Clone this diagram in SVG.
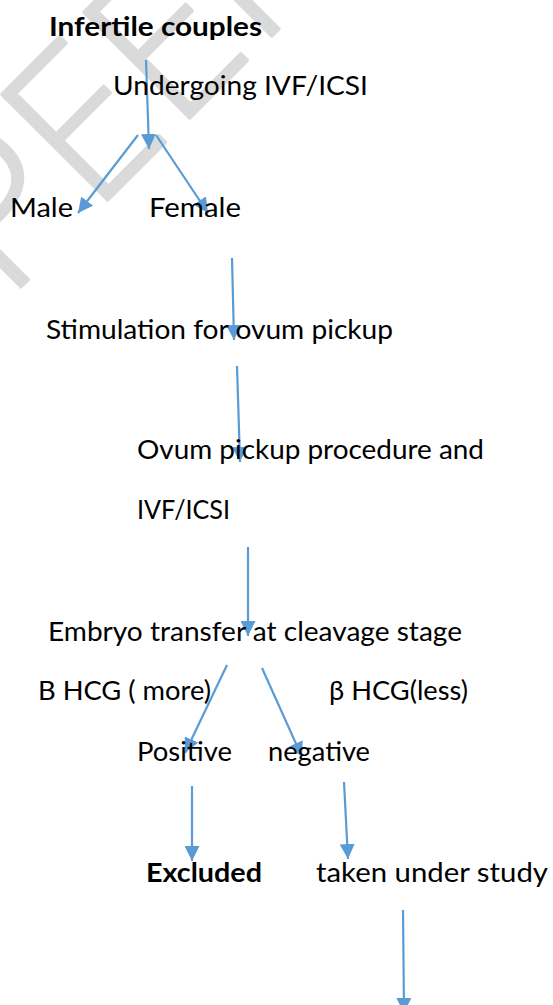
<svg xmlns="http://www.w3.org/2000/svg" width="553" height="1005" viewBox="0 0 553 1005">
<style>
.t{font-family:Lato,"Liberation Sans",sans-serif;font-size:26.5px;fill:#000}
.b{font-weight:bold}
.c{stroke:#5B9BD5;stroke-width:2.2;fill:none;marker-end:url(#ah)}
.wm{font-family:"Open Sans","Liberation Sans",sans-serif;font-weight:300;font-size:210px;fill:#dadada;stroke:#dadada;stroke-width:3;stroke-linejoin:round}
</style>
<defs>
<marker id="ah" markerUnits="userSpaceOnUse" markerWidth="15" markerHeight="15" viewBox="0 0 15 15" refX="15" refY="7.5" orient="auto">
<path d="M0,0 L15,7.5 L0,15 z" fill="#5B9BD5"/>
</marker>
</defs>
<rect width="553" height="1005" fill="#fff"/>
<g id="watermark"><text class="wm" transform="translate(6,302) rotate(-45)">PEER</text></g>
<g id="connectors">
<line class="c" x1="146" y1="60" x2="149" y2="149"/>
<line class="c" x1="138" y1="135" x2="78" y2="213"/>
<line class="c" x1="156" y1="135" x2="208" y2="213"/>
<line class="c" x1="232" y1="258" x2="234" y2="340"/>
<line class="c" x1="237" y1="366" x2="240" y2="462"/>
<line class="c" x1="248" y1="547" x2="248" y2="636"/>
<line class="c" x1="227" y1="665" x2="185" y2="753"/>
<line class="c" x1="262" y1="668" x2="302" y2="757"/>
<line class="c" x1="192" y1="786" x2="192" y2="861"/>
<line class="c" x1="344" y1="782" x2="348" y2="859"/>
<line class="c" x1="403" y1="910" x2="404" y2="1013"/>
</g>
<g id="n-infertile"><text class="t b" x="49" y="36" textLength="213" lengthAdjust="spacingAndGlyphs">Infertile couples</text></g>
<g id="n-undergoing"><text class="t" x="113" y="95" textLength="255" lengthAdjust="spacingAndGlyphs">Undergoing IVF/ICSI</text></g>
<g id="n-male"><text class="t" x="10" y="217" textLength="63" lengthAdjust="spacingAndGlyphs">Male</text></g>
<g id="n-female"><text class="t" x="149" y="217" textLength="92" lengthAdjust="spacingAndGlyphs">Female</text></g>
<g id="n-stimulation"><text class="t" x="46" y="339" textLength="347" lengthAdjust="spacingAndGlyphs">Stimulation for ovum pickup</text></g>
<g id="n-ovum"><text class="t" x="137" y="459" textLength="347" lengthAdjust="spacingAndGlyphs">Ovum pickup procedure and</text><text class="t" x="137" y="519" textLength="93" lengthAdjust="spacingAndGlyphs">IVF/ICSI</text></g>
<g id="n-embryo"><text class="t" x="48" y="641" textLength="414" lengthAdjust="spacingAndGlyphs">Embryo transfer at cleavage stage</text></g>
<g id="n-bhcg-more"><text class="t" x="38" y="700" textLength="173" lengthAdjust="spacingAndGlyphs">B HCG ( more)</text></g>
<g id="n-bhcg-less"><text class="t" x="329" y="700" textLength="139" lengthAdjust="spacingAndGlyphs">β HCG(less)</text></g>
<g id="n-positive"><text class="t" x="137" y="761" textLength="95" lengthAdjust="spacingAndGlyphs">Positive</text></g>
<g id="n-negative"><text class="t" x="268" y="761" textLength="102" lengthAdjust="spacingAndGlyphs">negative</text></g>
<g id="n-excluded"><text class="t b" x="146" y="882" textLength="116" lengthAdjust="spacingAndGlyphs">Excluded</text></g>
<g id="n-study"><text class="t" x="316" y="882" textLength="232" lengthAdjust="spacingAndGlyphs">taken under study</text></g>
</svg>
